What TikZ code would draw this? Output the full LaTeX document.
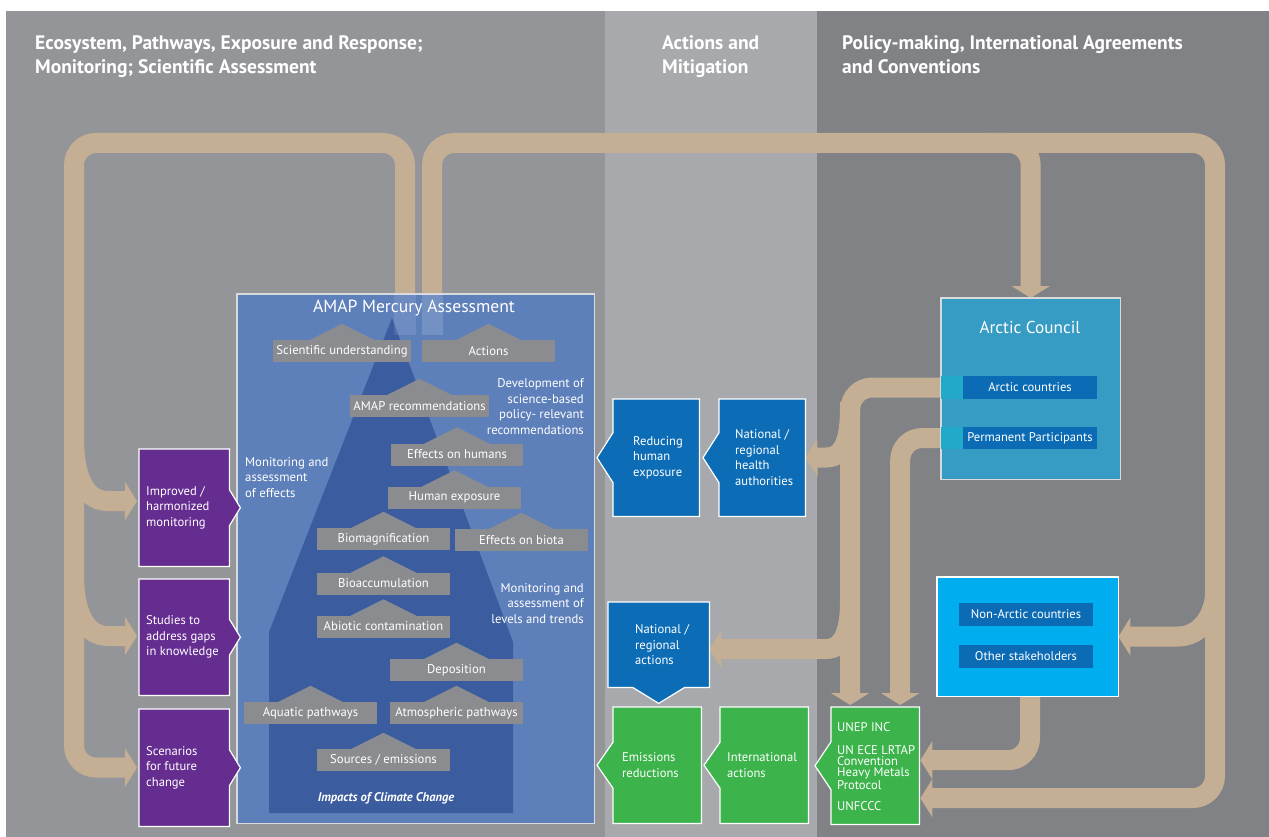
\documentclass[tikz,border=0pt]{standalone}
\usepackage{fontspec}
\setmainfont{PT Sans}
\usetikzlibrary{arrows.meta,calc}

\definecolor{colA}{HTML}{939598}
\definecolor{colB}{HTML}{A7A9AC}
\definecolor{colC}{HTML}{808285}
\definecolor{pipetan}{HTML}{C4AF95}
\definecolor{amapblue}{HTML}{5E80BA}
\definecolor{pyramidblue}{HTML}{3B5C9E}
\definecolor{labelgray}{HTML}{8B8C8F}
\definecolor{deepblue}{HTML}{0C6DB6}
\definecolor{leafgreen}{HTML}{3CB44B}
\definecolor{purplebox}{HTML}{662D91}
\definecolor{councilblue}{HTML}{369CC4}
\definecolor{skycyan}{HTML}{00ADEF}
\definecolor{barblue}{HTML}{0B6CB5}
\definecolor{entrycyan}{HTML}{22A8C9}
\definecolor{edgegray}{HTML}{D9DADB}

\begin{document}
\begin{tikzpicture}[x=1pt,y=-1pt,
  pipe/.style={draw=pipetan, line width=20pt, rounded corners=22pt},
  branch/.style={draw=pipetan, line width=20pt},
  tipped/.style={-{Triangle[length=12pt,width=38pt]}},
  lab/.style={fill=labelgray, text=white, inner sep=0pt, minimum height=22pt,
              minimum width=133pt, font=\fontsize{12.7}{14}\selectfont},
  frame/.style={draw=white, line width=1.2pt, line join=miter},
  slot/.style={inner sep=0pt, anchor=north west},
  btext/.style={text=white, align=left, inner sep=0pt, anchor=west,
                font=\fontsize{12.6}{15.6}\selectfont},
  note/.style={text=white, inner sep=0pt, font=\fontsize{12.7}{15.6}\selectfont},
  head/.style={text=white, inner sep=0pt, anchor=base west,
               font=\bfseries\fontsize{19.5}{22}\selectfont},
  bar/.style={fill=barblue, text=white, inner sep=0pt, minimum width=134pt,
              minimum height=23pt, font=\fontsize{12.6}{14}\selectfont}
]
\useasboundingbox (0,0) rectangle (1269,837);
\fill[white] (0,0) rectangle (1269,837);

% three columns
\fill[colA] (6,11) rectangle (605,837);
\fill[colB] (605,11) rectangle (817,837);
\fill[colC] (817,11) rectangle (1269,837);

% column headings
\node[head] (hl1) at (35,50) {Ecosystem, Pathways, Exposure and Response;};
\node[head] (hl2) at (35,74) {Monitoring; Scientific Assessment};
\node[head] (hm1) at (662,50) {Actions and};
\node[head] (hm2) at (662,74) {Mitigation};
\node[head] (hr1) at (842,50) {Policy-making, International Agreements};
\node[head] (hr2) at (842,74) {and Conventions};

% box placeholders (named, for anchors)
\node[slot, minimum width=357pt, minimum height=529pt] (amap) at (237,294) {};
\node[slot, minimum width=90pt, minimum height=117pt] (p1) at (139,449) {};
\node[slot, minimum width=90pt, minimum height=116pt] (p2) at (139,579) {};
\node[slot, minimum width=90pt, minimum height=117pt] (p3) at (139,709) {};
\node[slot, minimum width=86pt, minimum height=117pt] (reduce) at (613,399) {};
\node[slot, minimum width=86pt, minimum height=117pt] (health) at (719,399) {};
\node[slot, minimum width=101pt, minimum height=85pt] (natact) at (608,602) {};
\node[slot, minimum width=88pt, minimum height=116pt] (emis) at (613,707) {};
\node[slot, minimum width=88pt, minimum height=116pt] (intl) at (720,707) {};
\node[slot, minimum width=88pt, minimum height=117pt] (unep) at (831,707) {};
\node[slot, minimum width=179pt, minimum height=181pt] (council) at (941,298) {};
\node[slot, minimum width=181pt, minimum height=119pt] (nonarctic) at (937,577) {};
\node[bar] (acbar) at (1030,387.5) {Arctic countries};
\node[bar, minimum height=22pt] (ppbar) at (1030,438) {Permanent Participants};

% feedback pipes
\draw[pipe, tipped] (405,294) -- (405,143) -- (74,143) -- (74,767.5) -- ($(p3.west)+(-2,0)$);
\draw[branch, tipped] (74,440) to[out=-90,in=180] (108,501) -- ($(p1.west)+(-2,-6.5)$);
\draw[branch, tipped] (74,575) to[out=-90,in=180] (108,636) -- ($(p2.west)+(-2,-1)$);
\draw[pipe, tipped] (432,294) -- (432,143) -- (1215,143) -- (1215,798) -- ($(unep.east)+(1,32.5)$);
\draw[pipe, tipped] (985,143) -| (council.north);
\draw[branch, tipped] (1215,592) to[out=-90,in=0] (1178,636.5) -- (nonarctic.east);
\draw[pipe, tipped] (1030,696) |- ($(unep.east)+(1,-5.5)$);
\draw[pipe, tipped] (acbar.west) -| ($(unep.north)+(-25,-2)$);
\draw[pipe, tipped] (ppbar.west) -| ($(unep.north)+(25,-2)$);
\draw[branch, tipped] (850,402) to[out=-90,in=0] (826,457.5) -- (health.east);
\draw[branch, tipped] (850,602) to[out=-90,in=0] (826,649) -- ($(natact.east)+(0,4.5)$);

% AMAP assessment panel
\filldraw[fill=amapblue, draw=edgegray, line width=1.5pt] (amap.north west) rectangle (amap.south east);
\fill[pyramidblue] (392,318) -- (513,642) -- (513,813) -- (269,813) -- (269,632) -- cycle;
\fill[white, opacity=0.1] (394,294) rectangle (416,335);
\fill[white, opacity=0.14] (422,294) rectangle (443,335);
\node[text=white, inner sep=0pt, font=\fontsize{17.6}{20}\selectfont] (amaptitle) at (414,308) {AMAP Mercury Assessment};

\node[lab, minimum width=138pt] (sci) at (342,351) {Scientific understanding};
\node[lab] (act) at (488.5,351) {Actions};
\node[lab, minimum width=139pt] (rec) at (419.5,406) {AMAP recommendations};
\node[lab, minimum width=132pt] (hum) at (457,454.5) {Effects on humans};
\node[lab] (hexp) at (454.5,497.5) {Human exposure};
\node[lab] (biomag) at (383.5,539) {Biomagnification};
\node[lab] (biota) at (521.5,540) {Effects on biota};
\node[lab] (bioacc) at (383.5,583.5) {Bioaccumulation};
\node[lab] (abiotic) at (383.5,626.5) {Abiotic contamination};
\node[lab] (depo) at (456.5,670) {Deposition};
\node[lab] (aqua) at (310.5,713) {Aquatic pathways};
\node[lab] (atmo) at (456.5,713) {Atmospheric pathways};
\node[lab] (src) at (383.5,760) {Sources / emissions};
\foreach \n in {sci,act,rec,hum,hexp,biomag,biota,bioacc,abiotic,depo,aqua,atmo,src}
  \fill[labelgray] ($(\n.north)+(-33,0.5)$) -- ($(\n.north)+(0,-16)$) -- ($(\n.north)+(33,0.5)$) -- cycle;

\node[note, align=right, anchor=east] (devnote) at (584,406.5)
  {Development of\\science-based\\policy- relevant\\recommendations};
\node[note, align=left, anchor=west] (effnote) at (245,477.5)
  {Monitoring and\\assessment\\of effects};
\node[note, align=right, anchor=east] (levnote) at (584,603.5)
  {Monitoring and\\assessment of\\levels and trends};
\node[text=white, inner sep=0pt, font=\bfseries\itshape\fontsize{12.5}{14}\selectfont] (impacts) at (386,798)
  {Impacts of Climate Change};

% purple study boxes (bump on the right)
\foreach \b in {p1,p2,p3}
  \filldraw[frame, fill=purplebox] (\b.north west) -- (\b.north east) -- ($(\b.east)+(0,-18)$)
    -- ($(\b.east)+(11,0)$) -- ($(\b.east)+(0,18)$) -- (\b.south east) -- (\b.south west) -- cycle;
\node[btext] (p1t) at ($(p1.west)+(7,0)$) {Improved /\\harmonized\\monitoring};
\node[btext] (p2t) at ($(p2.west)+(7,0)$) {Studies to\\address gaps\\in knowledge};
\node[btext] (p3t) at ($(p3.west)+(7,0)$) {Scenarios\\for future\\change};

% action boxes (bump on the left)
\foreach \b/\c/\h in {reduce/deepblue/25,health/deepblue/25,emis/leafgreen/23,intl/leafgreen/23,unep/leafgreen/24}
  \filldraw[frame, fill=\c] (\b.north west) -- (\b.north east) -- (\b.south east) -- (\b.south west)
    -- ($(\b.west)+(0,\h)$) -- ($(\b.west)+(-16,0)$) -- ($(\b.west)+(0,-\h)$) -- cycle;
\filldraw[frame, fill=deepblue] (natact.north west) -- (natact.north east) -- (natact.south east)
  -- ($(natact.south)+(26,0)$) -- ($(natact.south)+(0,16)$) -- ($(natact.south)+(-26,0)$)
  -- (natact.south west) -- cycle;

\node[btext] (reducet) at ($(reduce.west)+(20,0)$) {Reducing\\human\\exposure};
\node[btext] (healtht) at ($(health.west)+(16,0)$) {National /\\regional\\health\\authorities};
\node[btext] (natactt) at ($(natact.west)+(27,0)$) {National /\\regional\\actions};
\node[btext] (emist) at ($(emis.west)+(9,0)$) {Emissions\\reductions};
\node[btext] (intlt) at ($(intl.west)+(7,0)$) {International\\actions};
\node[btext, font=\fontsize{12.6}{11.3}\selectfont] (unept) at ($(unep.west)+(6,1)$)
  {UNEP INC\\[11.5pt]UN ECE LRTAP\\Convention\\Heavy Metals\\Protocol\\[10.5pt]UNFCCC};

% Arctic Council and other stakeholders
\filldraw[fill=councilblue, draw=edgegray, line width=1.2pt] (council.north west) rectangle (council.south east);
\node[text=white, inner sep=0pt, font=\fontsize{17.2}{19}\selectfont] (actitle) at (1030,327) {Arctic Council};
\node[bar] (acbar2) at (acbar) {Arctic countries};
\node[bar, minimum height=22pt] (ppbar2) at (ppbar) {Permanent Participants};
\fill[entrycyan] (council.west |- acbar.north) rectangle (acbar.south west);
\fill[entrycyan] (council.west |- ppbar.north) rectangle (ppbar.south west);

\filldraw[fill=skycyan, draw=white, line width=1.2pt] (nonarctic.north west) rectangle (nonarctic.south east);
\node[bar] (nacbar) at (1026,614.5) {Non-Arctic countries};
\node[bar] (osbar) at (1026,656.5) {Other stakeholders};
\end{tikzpicture}
\end{document}
